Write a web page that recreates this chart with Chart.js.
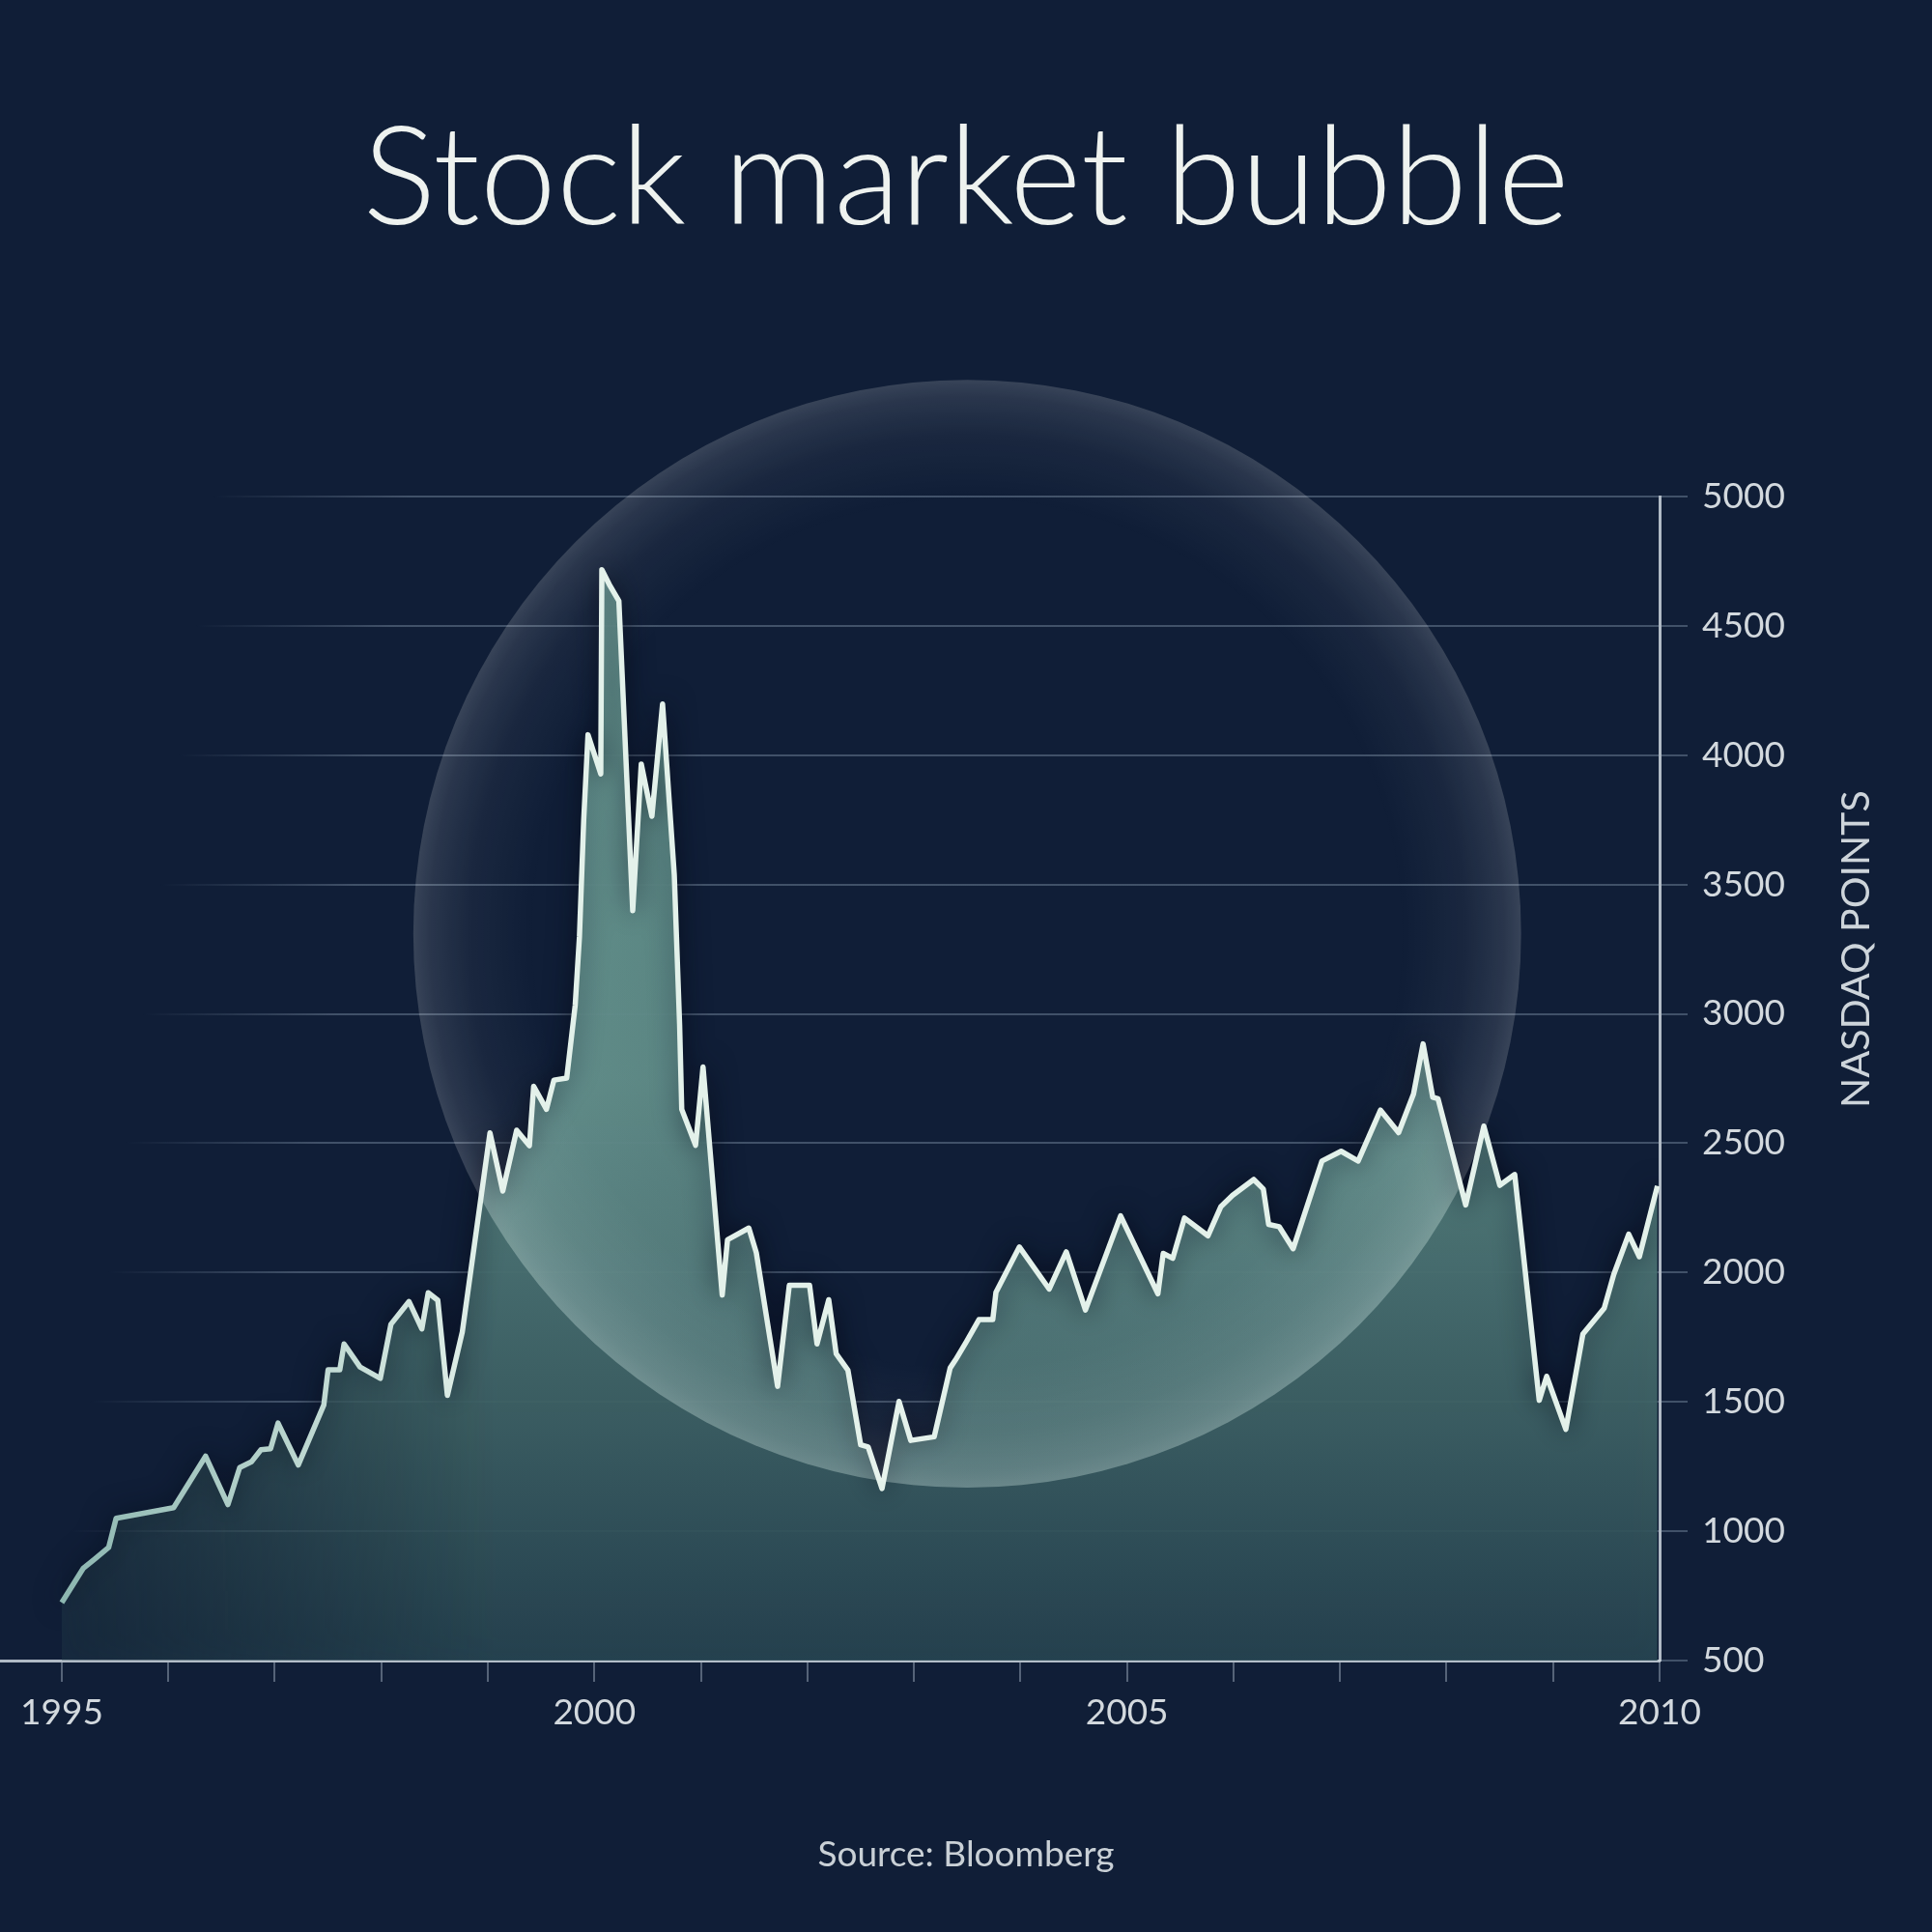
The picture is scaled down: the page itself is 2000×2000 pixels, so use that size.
<!DOCTYPE html>
<html>
<head>
<meta charset="utf-8">
<title>Stock market bubble</title>
<script src="https://cdn.jsdelivr.net/npm/chart.js@4.4.1/dist/chart.umd.min.js"></script>
<style>
  html, body { margin: 0; padding: 0; background: #101e37; }
  #bubbleChart { display: block; width: 2000px; height: 2000px; }
</style>
</head>
<body>
<canvas id="bubbleChart" width="2000" height="2000"></canvas>
<script>
// NASDAQ composite (decimal year, points)
const YEARS = [
    1995.00, 1995.20, 1995.31, 1995.44, 1995.51,
    1996.05, 1996.35, 1996.56, 1996.67, 1996.78, 1996.87, 1996.96,
    1997.03, 1997.22, 1997.46, 1997.50, 1997.61, 1997.65, 1997.80, 1997.99,
    1998.09, 1998.26, 1998.38, 1998.44, 1998.53, 1998.62, 1998.76,
    1999.02, 1999.14, 1999.27, 1999.39, 1999.43, 1999.55, 1999.62, 1999.74, 1999.82, 1999.86, 1999.90, 1999.94,
    2000.06, 2000.07, 2000.14, 2000.23, 2000.36, 2000.44, 2000.54, 2000.64, 2000.75, 2000.80, 2000.82, 2000.95,
    2001.02, 2001.20, 2001.25, 2001.45, 2001.52, 2001.72, 2001.83,
    2002.02, 2002.09, 2002.20, 2002.27, 2002.38, 2002.50, 2002.57, 2002.70, 2002.86, 2002.97,
    2003.19, 2003.34, 2003.39, 2003.49, 2003.61, 2003.74, 2003.77, 2003.99,
    2004.27, 2004.43, 2004.61, 2004.94,
    2005.29, 2005.34, 2005.43, 2005.54, 2005.76, 2005.88, 2005.99,
    2006.19, 2006.28, 2006.33, 2006.43, 2006.56, 2006.83,
    2007.01, 2007.17, 2007.38, 2007.55, 2007.69, 2007.78, 2007.87, 2007.92,
    2008.18, 2008.35, 2008.50, 2008.64, 2008.87, 2008.94,
    2009.12, 2009.28, 2009.48, 2009.57, 2009.71, 2009.81, 2009.98
]
const NASDAQ = [
    724, 856, 893, 937, 1050,
    1091, 1290, 1103, 1246, 1268, 1315, 1319,
    1418, 1256, 1488, 1624, 1624, 1724, 1635, 1591,
    1800, 1888, 1782, 1922, 1893, 1525, 1770,
    2540, 2315, 2550, 2490, 2720, 2631, 2744, 2752, 3034, 3300, 3750, 4079,
    3928, 4717, 4660, 4596, 3399, 3966, 3764, 4198, 3538, 2960, 2631, 2492,
    2795, 1913, 2127, 2172, 2077, 1560, 1951,
    1951, 1724, 1895, 1686, 1623, 1334, 1326, 1165, 1502, 1351,
    1365, 1631, 1662, 1731, 1818, 1818, 1924, 2099,
    1936, 2080, 1855, 2219,
    1918, 2074, 2055, 2211, 2142, 2254, 2298,
    2360, 2323, 2186, 2177, 2092, 2431,
    2469, 2431, 2628, 2541, 2690, 2884, 2678, 2672,
    2261, 2566, 2337, 2379, 1506, 1599,
    1394, 1762, 1862, 1993, 2148, 2061, 2335
]
const YEAR_TICKS = [1995, 1996, 1997, 1998, 1999, 2000, 2001, 2002, 2003, 2004, 2005, 2006, 2007, 2008, 2009, 2010]
const LABELED_YEARS = [1995, 2000, 2005, 2010]
const POINT_TICKS = [500, 1000, 1500, 2000, 2500, 3000, 3500, 4000, 4500, 5000]

const X_MIN = 1994.42
const BUBBLE = { year: 2003.5, points: 3310, radiusYears: 5.2 }

let fillPattern = null
let lineGradient = null
let gridGradient = null

function bubbleGeometry(chart) {
    const x = chart.scales.x
    const cx = x.getPixelForValue(BUBBLE.year)
    return {
        cx: cx,
        cy: chart.scales.y.getPixelForValue(BUBBLE.points),
        r: x.getPixelForValue(BUBBLE.year + BUBBLE.radiusYears) - cx
    }
}

function areaFill(ctx) {
    const chart = ctx.chart
    const area = chart.chartArea
    if (!area) return 'rgba(0,0,0,0)'
    if (fillPattern) return fillPattern

    const off = document.createElement('canvas')
    off.width = chart.width
    off.height = chart.height
    const g = off.getContext('2d')

    const v = g.createLinearGradient(0, area.top, 0, area.bottom)
    v.addColorStop(0, 'rgba(96, 146, 140, 0.92)')
    v.addColorStop(0.5, 'rgba(94, 140, 136, 0.9)')
    v.addColorStop(0.8, 'rgba(66, 104, 106, 0.86)')
    v.addColorStop(1, 'rgba(42, 74, 86, 0.84)')
    g.fillStyle = v
    g.fillRect(0, 0, off.width, off.height)

    // lighter inside the bubble
    const b = bubbleGeometry(chart)
    const rad = g.createRadialGradient(b.cx, b.cy, 0, b.cx, b.cy, b.r)
    rad.addColorStop(0, 'rgba(170, 220, 210, 0)')
    rad.addColorStop(0.45, 'rgba(170, 220, 210, 0.04)')
    rad.addColorStop(0.75, 'rgba(170, 220, 210, 0.16)')
    rad.addColorStop(1, 'rgba(170, 220, 210, 0.26)')
    g.globalCompositeOperation = 'source-atop'
    g.fillStyle = rad
    g.beginPath()
    g.arc(b.cx, b.cy, b.r, 0, Math.PI * 2)
    g.fill()

    // fade out towards the left
    const x0 = chart.scales.x.getPixelForValue(1995)
    const h = g.createLinearGradient(x0, 0, x0 + 450, 0)
    h.addColorStop(0, 'rgba(0,0,0,0.35)')
    h.addColorStop(1, 'rgba(0,0,0,1)')
    g.globalCompositeOperation = 'destination-in'
    g.fillStyle = h
    g.fillRect(0, 0, off.width, off.height)

    fillPattern = chart.ctx.createPattern(off, 'no-repeat')
    return fillPattern
}

function lineColor(ctx) {
    const chart = ctx.chart
    if (!chart.chartArea) return '#e3f1ea'
    if (lineGradient) return lineGradient
    const x0 = chart.scales.x.getPixelForValue(1995)
    lineGradient = chart.ctx.createLinearGradient(x0, 0, x0 + 450, 0)
    lineGradient.addColorStop(0, 'rgba(140, 182, 176, 1)')
    lineGradient.addColorStop(1, 'rgba(227, 241, 234, 1)')
    return lineGradient
}

function gridColor(ctx) {
    const chart = ctx.chart
    if (!chart.chartArea) return 'rgba(255,255,255,0.2)'
    if (gridGradient) return gridGradient
    const top = chart.chartArea.top
    gridGradient = chart.ctx.createLinearGradient(220, top, 418, top + 27)
    gridGradient.addColorStop(0, 'rgba(170, 190, 210, 0)')
    gridGradient.addColorStop(1, 'rgba(170, 190, 210, 0.32)')
    return gridGradient
}

const bubblePlugin = {
    id: 'bubbleGlow',
    beforeDatasetsDraw(chart) {
        const c = chart.ctx
        c.save()
        c.shadowColor = 'rgba(4, 10, 24, 0.75)'
        c.shadowBlur = 28
    },
    afterDatasetsDraw(chart) {
        const c = chart.ctx
        c.restore()
        const b = bubbleGeometry(chart)
        const glow = c.createRadialGradient(b.cx, b.cy, 0, b.cx, b.cy, b.r)
        glow.addColorStop(0, 'rgba(255,255,255,0)')
        glow.addColorStop(0.78, 'rgba(255,255,255,0)')
        glow.addColorStop(0.9, 'rgba(255,255,255,0.045)')
        glow.addColorStop(0.97, 'rgba(255,255,255,0.11)')
        glow.addColorStop(1, 'rgba(255,255,255,0.17)')
        c.save()
        c.fillStyle = glow
        c.beginPath()
        c.arc(b.cx, b.cy, b.r, 0, Math.PI * 2)
        c.fill()
        c.restore()
    },
    afterDraw(chart) {
        const c = chart.ctx
        const y = chart.scales.y
        c.save()
        c.translate(y.right - 78, y.getPixelForValue(3250))
        c.rotate(-Math.PI / 2)
        c.font = '400 41px Lato'
        c.fillStyle = '#cdd4da'
        c.textAlign = 'center'
        c.textBaseline = 'middle'
        c.fillText('NASDAQ POINTS', 0, 0)
        c.restore()
    }
}

const bubbleChart = new Chart(document.getElementById('bubbleChart'), {
    type: 'line',
    data: {
        datasets: [
            {
                label: 'NASDAQ',
                data: YEARS.map((yr, i) => ({ x: yr, y: NASDAQ[i] })),
                borderColor: lineColor,
                backgroundColor: areaFill,
                borderWidth: 5.5,
                borderJoinStyle: 'round',
                pointRadius: 0,
                tension: 0,
                fill: 'start'
            }
        ]
    },
    options: {
        responsive: false,
        devicePixelRatio: 1,
        animation: false,
        layout: { padding: 0 },
        plugins: {
            legend: { display: false },
            tooltip: { enabled: false },
            title: {
                display: true,
                text: 'Stock market bubble',
                color: '#eef2ef',
                font: { family: 'Lato', size: 142, weight: '300', lineHeight: 1.2 },
                padding: { top: 100.6, bottom: 243 }
            },
            subtitle: {
                display: true,
                position: 'bottom',
                text: 'Source: Bloomberg',
                color: '#c9d0d6',
                font: { family: 'Lato', size: 37, weight: '400', lineHeight: 1.2 },
                padding: { top: 103, bottom: 57.6 }
            }
        },
        scales: {
            x: {
                type: 'linear',
                min: X_MIN,
                max: 2010,
                afterBuildTicks: scale => {
                    scale.ticks = YEAR_TICKS.map(v => ({ value: v }))
                },
                afterFit: scale => {
                    scale.height = 76
                },
                border: { display: true, color: 'rgba(205, 214, 222, 0.85)', width: 3 },
                grid: {
                    drawOnChartArea: false,
                    drawTicks: true,
                    tickLength: 22,
                    color: 'rgba(170, 185, 200, 0.45)',
                    lineWidth: 2
                },
                ticks: {
                    autoSkip: false,
                    maxRotation: 0,
                    padding: 10,
                    color: '#d3d9de',
                    font: { family: 'Lato', size: 37 },
                    callback: v => LABELED_YEARS.includes(v) ? String(v) : ''
                }
            },
            y: {
                position: 'right',
                min: 500,
                max: 5000,
                afterBuildTicks: scale => {
                    scale.ticks = POINT_TICKS.map(v => ({ value: v }))
                },
                afterFit: scale => {
                    scale.width = 282
                },
                border: { display: true, color: 'rgba(205, 214, 222, 0.85)', width: 3 },
                grid: {
                    color: gridColor,
                    lineWidth: 2,
                    tickLength: 29
                },
                ticks: {
                    padding: 15,
                    crossAlign: 'near',
                    color: '#d3d9de',
                    font: { family: 'Lato', size: 37 },
                    callback: v => String(v)
                }
            }
        }
    },
    plugins: [bubblePlugin]
});
</script>
</body>
</html>
